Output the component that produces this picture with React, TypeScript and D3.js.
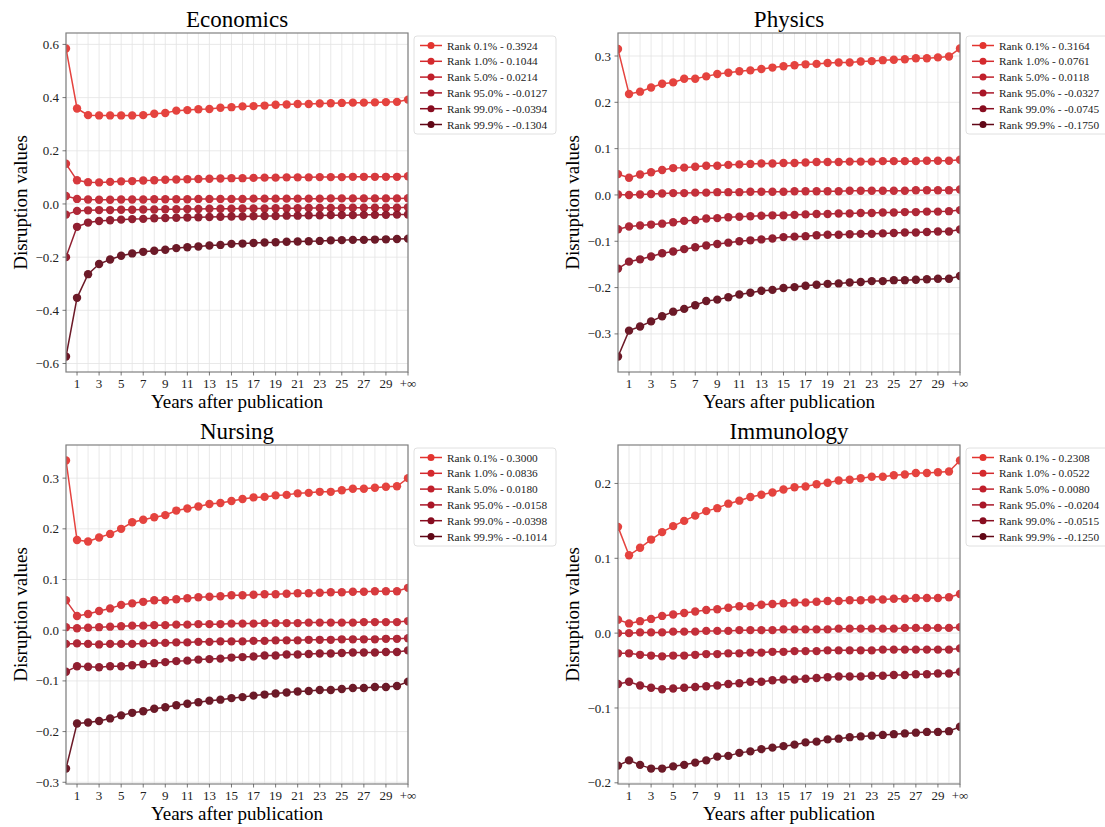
import * as d3 from 'd3';
import { useEffect, useRef } from 'react';

// ranks / legend
const rankLabels = ['0.1%', '1.0%', '5.0%', '95.0%', '99.0%', '99.9%'];
const rankColors = ['#e3342f', '#d42a2e', '#c01f2b', '#a91627', '#880d20', '#600716'];

// x axis: years 0..30 then +inf (last slot)
const xTickPositions = [1, 3, 5, 7, 9, 11, 13, 15, 17, 19, 21, 23, 25, 27, 29, 31];
const xTickLabels = ['1', '3', '5', '7', '9', '11', '13', '15', '17', '19', '21', '23', '25', '27', '29', '+∞'];

// Economics
const econ01 = [0.585, 0.359, 0.334, 0.333, 0.333, 0.333, 0.333, 0.334, 0.339, 0.342, 0.351, 0.353, 0.356, 0.357, 0.362, 0.364, 0.367, 0.368, 0.370, 0.373, 0.374, 0.376, 0.376, 0.378, 0.379, 0.380, 0.381, 0.381, 0.382, 0.383, 0.384, 0.3924];
const econ1 = [0.151, 0.089, 0.082, 0.081, 0.083, 0.085, 0.086, 0.088, 0.089, 0.091, 0.092, 0.093, 0.094, 0.095, 0.096, 0.097, 0.097, 0.098, 0.099, 0.099, 0.100, 0.100, 0.100, 0.101, 0.101, 0.101, 0.102, 0.102, 0.102, 0.102, 0.102, 0.1044];
const econ5 = [0.030, 0.019, 0.017, 0.016, 0.016, 0.017, 0.017, 0.017, 0.018, 0.018, 0.018, 0.018, 0.019, 0.019, 0.019, 0.019, 0.019, 0.020, 0.020, 0.020, 0.020, 0.020, 0.020, 0.020, 0.021, 0.021, 0.021, 0.021, 0.021, 0.021, 0.021, 0.0214];
const econ95 = [-0.040, -0.026, -0.024, -0.023, -0.023, -0.022, -0.022, -0.021, -0.021, -0.020, -0.020, -0.019, -0.019, -0.018, -0.018, -0.018, -0.017, -0.017, -0.017, -0.016, -0.016, -0.016, -0.015, -0.015, -0.015, -0.015, -0.014, -0.014, -0.014, -0.014, -0.014, -0.0127];
const econ99 = [-0.200, -0.086, -0.070, -0.064, -0.061, -0.059, -0.057, -0.056, -0.054, -0.053, -0.052, -0.051, -0.050, -0.049, -0.048, -0.047, -0.047, -0.046, -0.045, -0.045, -0.044, -0.044, -0.043, -0.043, -0.042, -0.042, -0.042, -0.041, -0.041, -0.041, -0.040, -0.0394];
const econ999 = [-0.574, -0.353, -0.264, -0.226, -0.209, -0.195, -0.186, -0.180, -0.176, -0.172, -0.166, -0.163, -0.160, -0.156, -0.154, -0.150, -0.149, -0.147, -0.145, -0.144, -0.142, -0.141, -0.140, -0.139, -0.137, -0.136, -0.135, -0.135, -0.134, -0.133, -0.132, -0.1304];
const econTicks = [-0.6, -0.4, -0.2, 0.0, 0.2, 0.4, 0.6];

// Physics
const phys01 = [0.315, 0.218, 0.223, 0.232, 0.240, 0.243, 0.251, 0.251, 0.256, 0.261, 0.264, 0.267, 0.269, 0.272, 0.275, 0.278, 0.280, 0.282, 0.283, 0.285, 0.286, 0.286, 0.288, 0.289, 0.291, 0.292, 0.293, 0.295, 0.295, 0.297, 0.299, 0.3164];
const phys1 = [0.045, 0.037, 0.044, 0.049, 0.054, 0.058, 0.059, 0.061, 0.063, 0.063, 0.065, 0.066, 0.067, 0.068, 0.068, 0.069, 0.069, 0.070, 0.071, 0.071, 0.071, 0.072, 0.072, 0.072, 0.073, 0.073, 0.073, 0.073, 0.074, 0.074, 0.074, 0.0761];
const phys5 = [0.001, 0.000, 0.001, 0.002, 0.003, 0.004, 0.004, 0.005, 0.005, 0.006, 0.006, 0.006, 0.007, 0.007, 0.007, 0.007, 0.008, 0.008, 0.008, 0.008, 0.008, 0.009, 0.009, 0.009, 0.009, 0.009, 0.009, 0.010, 0.010, 0.010, 0.010, 0.0118];
const phys95 = [-0.074, -0.068, -0.066, -0.064, -0.062, -0.059, -0.056, -0.054, -0.051, -0.050, -0.048, -0.047, -0.046, -0.045, -0.044, -0.044, -0.043, -0.042, -0.041, -0.041, -0.040, -0.040, -0.039, -0.039, -0.038, -0.038, -0.037, -0.037, -0.036, -0.036, -0.035, -0.0327];
const phys99 = [-0.159, -0.144, -0.139, -0.133, -0.126, -0.122, -0.117, -0.113, -0.109, -0.106, -0.103, -0.100, -0.098, -0.096, -0.094, -0.091, -0.090, -0.089, -0.087, -0.086, -0.086, -0.085, -0.084, -0.084, -0.083, -0.082, -0.081, -0.081, -0.080, -0.079, -0.079, -0.0745];
const phys999 = [-0.349, -0.293, -0.284, -0.273, -0.262, -0.252, -0.246, -0.238, -0.229, -0.226, -0.221, -0.215, -0.211, -0.207, -0.205, -0.201, -0.199, -0.196, -0.194, -0.192, -0.191, -0.189, -0.188, -0.186, -0.186, -0.184, -0.184, -0.183, -0.182, -0.181, -0.181, -0.1750];
const physTicks = [-0.3, -0.2, -0.1, 0.0, 0.1, 0.2, 0.3];

// Nursing
const nurs01 = [0.335, 0.178, 0.175, 0.183, 0.190, 0.200, 0.213, 0.218, 0.223, 0.227, 0.236, 0.240, 0.244, 0.249, 0.251, 0.255, 0.259, 0.262, 0.263, 0.266, 0.267, 0.270, 0.271, 0.273, 0.273, 0.276, 0.279, 0.279, 0.281, 0.283, 0.284, 0.3000];
const nurs1 = [0.059, 0.028, 0.032, 0.038, 0.043, 0.050, 0.053, 0.056, 0.059, 0.059, 0.061, 0.063, 0.065, 0.066, 0.067, 0.069, 0.069, 0.070, 0.071, 0.071, 0.072, 0.073, 0.073, 0.074, 0.075, 0.075, 0.076, 0.076, 0.077, 0.077, 0.077, 0.0836];
const nurs5 = [0.006, 0.004, 0.005, 0.006, 0.007, 0.008, 0.009, 0.009, 0.010, 0.010, 0.011, 0.011, 0.012, 0.012, 0.012, 0.013, 0.013, 0.013, 0.014, 0.014, 0.014, 0.014, 0.015, 0.015, 0.015, 0.015, 0.015, 0.016, 0.016, 0.016, 0.016, 0.0180];
const nurs95 = [-0.027, -0.026, -0.027, -0.028, -0.027, -0.027, -0.027, -0.026, -0.025, -0.025, -0.024, -0.024, -0.023, -0.023, -0.022, -0.022, -0.022, -0.021, -0.021, -0.020, -0.020, -0.020, -0.019, -0.019, -0.019, -0.018, -0.018, -0.018, -0.018, -0.017, -0.017, -0.0158];
const nurs99 = [-0.082, -0.071, -0.072, -0.073, -0.071, -0.071, -0.069, -0.067, -0.065, -0.063, -0.061, -0.060, -0.058, -0.057, -0.056, -0.054, -0.053, -0.052, -0.050, -0.050, -0.048, -0.048, -0.047, -0.046, -0.046, -0.045, -0.044, -0.044, -0.044, -0.043, -0.043, -0.0398];
const nurs999 = [-0.273, -0.184, -0.182, -0.179, -0.174, -0.168, -0.163, -0.160, -0.155, -0.152, -0.148, -0.145, -0.142, -0.139, -0.137, -0.134, -0.132, -0.129, -0.127, -0.125, -0.123, -0.121, -0.120, -0.118, -0.118, -0.116, -0.114, -0.114, -0.112, -0.112, -0.110, -0.1014];
const nursTicks = [-0.3, -0.2, -0.1, 0.0, 0.1, 0.2, 0.3];

// Immunology
const immu01 = [0.142, 0.104, 0.114, 0.125, 0.135, 0.143, 0.150, 0.157, 0.163, 0.167, 0.173, 0.177, 0.182, 0.185, 0.188, 0.192, 0.195, 0.196, 0.199, 0.201, 0.204, 0.205, 0.207, 0.209, 0.209, 0.211, 0.212, 0.214, 0.214, 0.215, 0.216, 0.2308];
const immu1 = [0.018, 0.013, 0.016, 0.019, 0.023, 0.025, 0.027, 0.029, 0.031, 0.032, 0.034, 0.036, 0.036, 0.038, 0.039, 0.040, 0.041, 0.041, 0.042, 0.043, 0.043, 0.044, 0.044, 0.045, 0.045, 0.046, 0.046, 0.047, 0.047, 0.047, 0.048, 0.0522];
const immu5 = [0.000, 0.000, 0.001, 0.001, 0.001, 0.002, 0.002, 0.002, 0.003, 0.003, 0.003, 0.004, 0.004, 0.004, 0.004, 0.005, 0.005, 0.005, 0.005, 0.005, 0.006, 0.006, 0.006, 0.006, 0.006, 0.006, 0.007, 0.007, 0.007, 0.007, 0.007, 0.0080];
const immu95 = [-0.027, -0.027, -0.029, -0.030, -0.031, -0.030, -0.030, -0.029, -0.028, -0.028, -0.027, -0.027, -0.026, -0.026, -0.025, -0.025, -0.024, -0.024, -0.024, -0.023, -0.023, -0.023, -0.023, -0.023, -0.022, -0.022, -0.022, -0.022, -0.022, -0.022, -0.022, -0.0204];
const immu99 = [-0.068, -0.065, -0.070, -0.073, -0.075, -0.074, -0.073, -0.072, -0.071, -0.070, -0.068, -0.067, -0.065, -0.065, -0.063, -0.062, -0.062, -0.061, -0.060, -0.059, -0.058, -0.058, -0.058, -0.057, -0.057, -0.056, -0.056, -0.055, -0.055, -0.054, -0.054, -0.0515];
const immu999 = [-0.177, -0.170, -0.176, -0.181, -0.181, -0.178, -0.176, -0.173, -0.170, -0.165, -0.164, -0.160, -0.158, -0.155, -0.153, -0.151, -0.149, -0.146, -0.145, -0.142, -0.141, -0.139, -0.138, -0.137, -0.136, -0.135, -0.134, -0.133, -0.132, -0.132, -0.131, -0.1250];
const immuTicks = [-0.2, -0.1, 0.0, 0.1, 0.2];

const FONT = '"Liberation Serif", "Times New Roman", serif';

const App = () => {
    const ref = useRef(null);

    useEffect(() => {
        const panels = [
            { title: 'Economics', series: [econ01, econ1, econ5, econ95, econ99, econ999], ticks: econTicks, ox: 66, oy: 33 },
            { title: 'Physics', series: [phys01, phys1, phys5, phys95, phys99, phys999], ticks: physTicks, ox: 618, oy: 33 },
            { title: 'Nursing', series: [nurs01, nurs1, nurs5, nurs95, nurs99, nurs999], ticks: nursTicks, ox: 66, oy: 445 },
            { title: 'Immunology', series: [immu01, immu1, immu5, immu95, immu99, immu999], ticks: immuTicks, ox: 618, oy: 445 },
        ];

        const plotW = 342;
        const plotH = 339;

        const root = d3.select(ref.current);
        root.selectAll('*').remove();

        const svg = root
            .append('svg')
            .attr('width', 1105)
            .attr('height', 827)
            .style('position', 'absolute')
            .style('left', 0)
            .style('top', 0)
            .style('background', '#fff')
            .style('font-family', FONT);

        panels.forEach((p, pi) => {
            const g = svg.append('g').attr('transform', `translate(${p.ox},${p.oy})`);

            const x = d3.scaleLinear().domain([0, 31]).range([0, plotW]);
            const all = p.series.flat();
            const [lo, hi] = d3.extent(all);
            const pad = (hi - lo) * 0.05;
            const y = d3.scaleLinear().domain([lo - pad, hi + pad]).range([plotH, 0]);

            // grid
            g.selectAll('.vgrid')
                .data(d3.range(32))
                .join('line')
                .attr('x1', (d) => x(d))
                .attr('x2', (d) => x(d))
                .attr('y1', 0)
                .attr('y2', plotH)
                .attr('stroke', '#e3e3e3')
                .attr('stroke-width', 0.8);

            g.selectAll('.hgrid')
                .data(p.ticks)
                .join('line')
                .attr('x1', 0)
                .attr('x2', plotW)
                .attr('y1', (d) => y(d))
                .attr('y2', (d) => y(d))
                .attr('stroke', '#e3e3e3')
                .attr('stroke-width', 0.8);

            // clip for data
            const clipId = `clip-${pi}`;
            g.append('clipPath').attr('id', clipId)
                .append('rect').attr('width', plotW).attr('height', plotH);

            const data = g.append('g').attr('clip-path', `url(#${clipId})`);
            const line = d3.line().x((d, i) => x(i)).y((d) => y(d));

            p.series.forEach((s, si) => {
                const sg = data.append('g').attr('opacity', 0.92);
                sg.append('path')
                    .attr('d', line(s))
                    .attr('fill', 'none')
                    .attr('stroke', rankColors[si])
                    .attr('stroke-width', 1.5);
                sg.selectAll('circle')
                    .data(s)
                    .join('circle')
                    .attr('cx', (d, i) => x(i))
                    .attr('cy', (d) => y(d))
                    .attr('r', 4.2)
                    .attr('fill', rankColors[si]);
            });

            // frame
            g.append('rect')
                .attr('width', plotW)
                .attr('height', plotH)
                .attr('fill', 'none')
                .attr('stroke', '#808080')
                .attr('stroke-width', 1.2);

            // x ticks
            const xt = g.selectAll('.xtick')
                .data(xTickPositions)
                .join('g')
                .attr('transform', (d) => `translate(${x(d)},${plotH})`);
            xt.append('line').attr('y1', 0).attr('y2', 3.5).attr('stroke', '#555').attr('stroke-width', 0.8);
            xt.append('text')
                .attr('y', 16)
                .attr('text-anchor', 'middle')
                .style('font-size', '13px')
                .attr('fill', '#222')
                .text((d, i) => xTickLabels[i]);

            // y ticks
            const yt = g.selectAll('.ytick')
                .data(p.ticks)
                .join('g')
                .attr('transform', (d) => `translate(0,${y(d)})`);
            yt.append('line').attr('x1', 0).attr('x2', -3.5).attr('stroke', '#555').attr('stroke-width', 0.8);
            yt.append('text')
                .attr('x', -7)
                .attr('dy', '0.35em')
                .attr('text-anchor', 'end')
                .style('font-size', '13px')
                .attr('fill', '#222')
                .text((d) => d3.format('.1f')(d));

            // title + axis labels
            g.append('text')
                .attr('x', plotW / 2)
                .attr('y', -6)
                .attr('text-anchor', 'middle')
                .style('font-size', '23px')
                .text(p.title);

            g.append('text')
                .attr('x', plotW / 2)
                .attr('y', plotH + 36)
                .attr('text-anchor', 'middle')
                .style('font-size', '19px')
                .text('Years after publication');

            g.append('text')
                .attr('transform', `translate(-39,${plotH / 2}) rotate(-90)`)
                .attr('text-anchor', 'middle')
                .style('font-size', '19px')
                .text('Disruption values');

            // legend
            const legend = g.append('g').attr('transform', `translate(${plotW + 6},3)`);
            legend.append('rect')
                .attr('width', 142)
                .attr('height', 98)
                .attr('rx', 3)
                .attr('fill', '#fff')
                .attr('stroke', '#d8d8d8')
                .attr('stroke-width', 0.8);

            p.series.forEach((s, si) => {
                const ly = 9.5 + si * 15.8;
                legend.append('line')
                    .attr('x1', 6).attr('x2', 28)
                    .attr('y1', ly).attr('y2', ly)
                    .attr('stroke', rankColors[si])
                    .attr('stroke-width', 1.5);
                legend.append('circle')
                    .attr('cx', 17).attr('cy', ly).attr('r', 3.5)
                    .attr('fill', rankColors[si]);
                legend.append('text')
                    .attr('x', 33)
                    .attr('y', ly + 4)
                    .style('font-size', '11.3px')
                    .attr('fill', '#222')
                    .text(`Rank ${rankLabels[si]} - ${s[s.length - 1].toFixed(4)}`);
            });
        });
    }, []);

    return <div ref={ref}></div>;
};

export default App;
